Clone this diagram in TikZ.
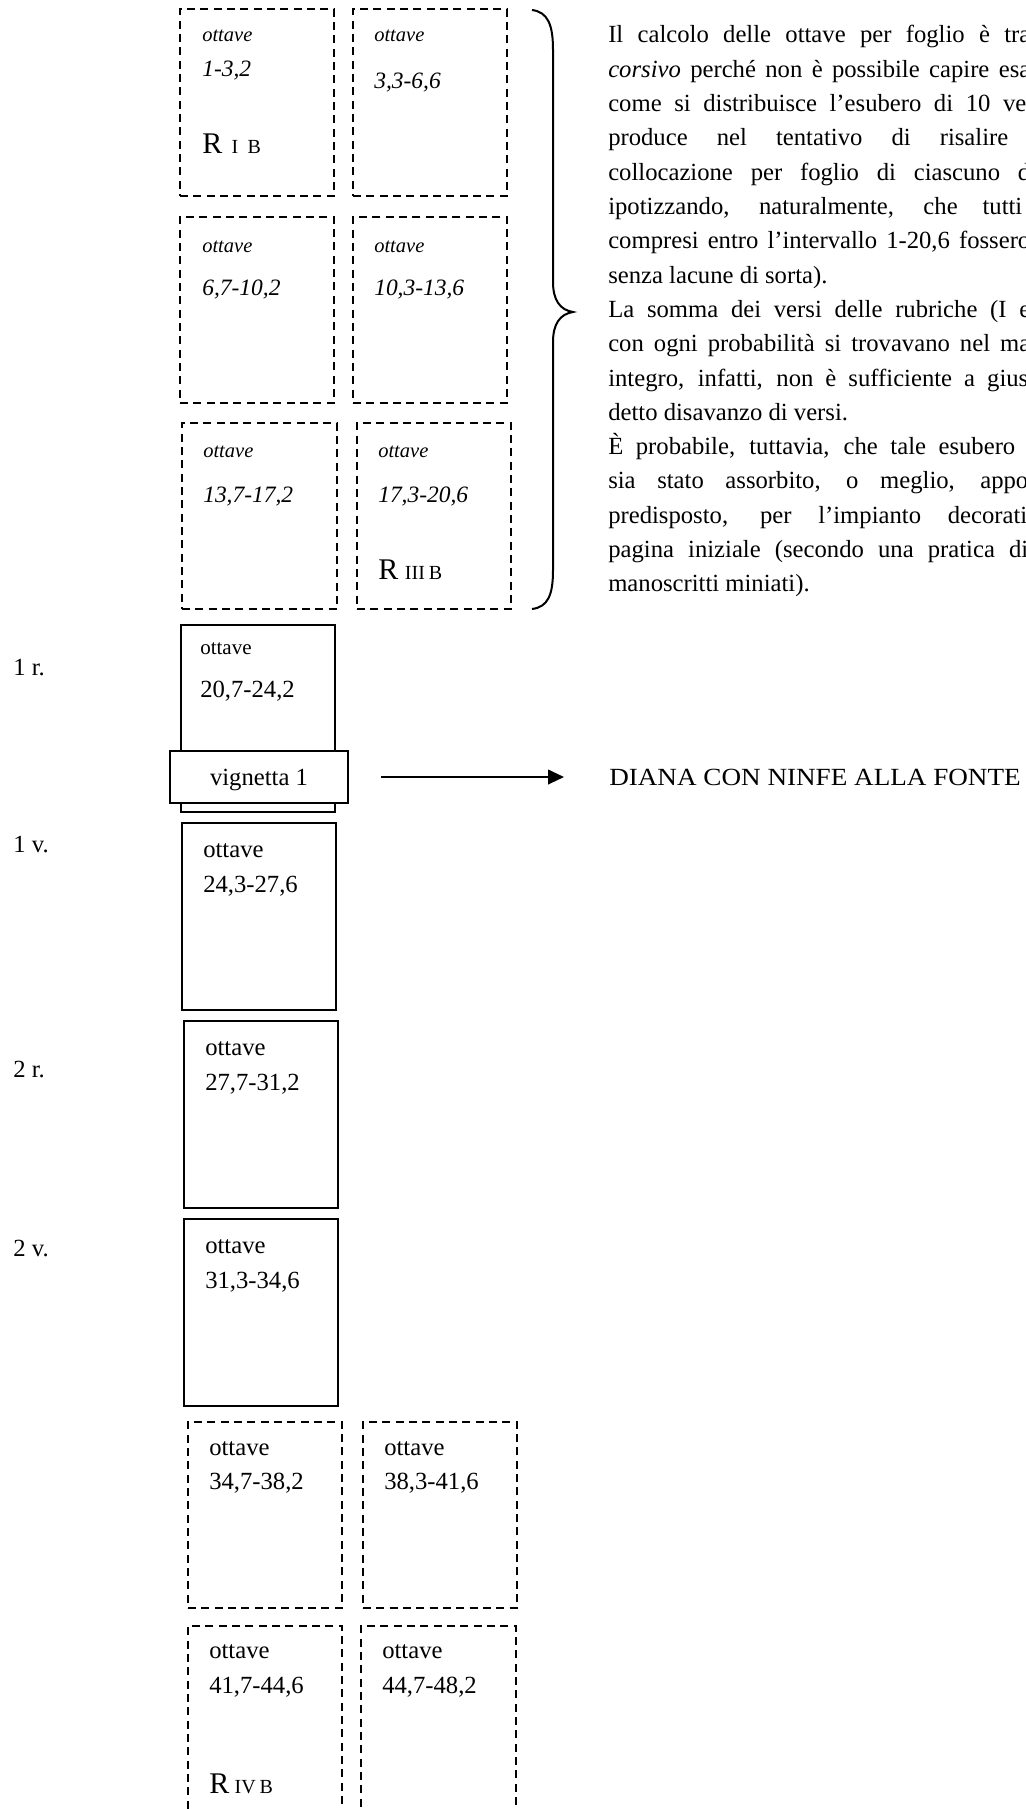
\documentclass[tikz,border=0pt]{standalone}
\usepackage{fontspec}
\setmainfont{Liberation Serif}
\usetikzlibrary{fit,arrows.meta}
\newcommand\setfs[1]{\fontsize{#1}{#1}\selectfont}
\newcommand\pline[4]{\node[txt,font=\setfs{18.5}] (#1) at (608,#2) {\makebox[#3pt][s]{#4}};}
\begin{document}
\begin{tikzpicture}[x=0.75pt,y=-0.75pt,
  dbox/.style={draw, line width=1.6pt, dash pattern=on 6pt off 4pt, inner sep=0pt},
  sbox/.style={draw, line width=1.5pt, inner sep=0pt},
  txt/.style={anchor=base west, inner sep=0pt},
  itsm/.style={txt, font=\setfs{15.4}\itshape},
  itnum/.style={txt, font=\setfs{17.6}\itshape},
  upsm/.style={txt, font=\setfs{18.5}},
  arr/.style={line width=1.5pt, -{Triangle[length=12pt,width=11pt]}}]
\useasboundingbox (0,0) rectangle (1025,1809);
\clip (0,0) rectangle (1025,1809);
% top dashed boxes
\node[dbox, fit={(180,9) (334,196)}] (b1) {};
\node[dbox, fit={(353,9) (507,196)}] (b2) {};
\node[dbox, fit={(180,217) (334,403)}] (b3) {};
\node[dbox, fit={(353,217) (507,403)}] (b4) {};
\node[dbox, fit={(182,423) (337,609)}] (b5) {};
\node[dbox, fit={(357,423) (511,609)}] (b6) {};
\node[itsm] (b1a) at (202,42) {ottave};
\node[itnum] (b1b) at (202,77) {1-3,2};
\node[txt] (b1c) at (202,153) {\setfs{22.5}R\hspace{7pt}\setfs{15}I\hspace{7pt}B};
\node[itsm] (b2a) at (374,42) {ottave};
\node[itnum] (b2b) at (374,89) {3,3-6,6};
\node[itsm] (b3a) at (202,252) {ottave};
\node[itnum] (b3b) at (202,295) {6,7-10,2};
\node[itsm] (b4a) at (374,252) {ottave};
\node[itnum] (b4b) at (374,295) {10,3-13,6};
\node[itsm] (b5a) at (203,457) {ottave};
\node[itnum] (b5b) at (203,502) {13,7-17,2};
\node[itsm] (b6a) at (378,457) {ottave};
\node[itnum] (b6b) at (378,502) {17,3-20,6};
\node[txt] (b6c) at (378,579) {\setfs{22.5}R\hspace{5pt}\setfs{15}III\hspace{3pt}B};
% brace
\draw[line width=1.5pt] (532,10) .. controls (548,12) and (553,25) .. (553,50) -- (553,282)
  .. controls (553,300) and (560,310) .. (573,312)
  .. controls (560,314) and (553,324) .. (553,342) -- (553,570)
  .. controls (553,595) and (548,607) .. (532,609);
% paragraph
\pline{p1}{43}{316.5}{Il calcolo delle ottave per foglio è tra}
\pline{p2}{77.3}{316.5}{\textit{corsivo} perché non è possibile capire esa}
\pline{p3}{111.6}{313.5}{come si distribuisce l’esubero di 10 ve}
\pline{p4}{145.9}{300}{produce nel tentativo di risalire}
\pline{p5}{180.2}{316.5}{collocazione per foglio di ciascuno d}
\pline{p6}{214.5}{310.5}{ipotizzando, naturalmente, che tutti}
\pline{p7}{248.8}{316.5}{compresi entro l’intervallo 1-20,6 fossero}
\node[txt,font=\setfs{18.5}] (p8) at (608,283.1) {senza lacune di sorta).};
\pline{p9}{317.4}{316.5}{La somma dei versi delle rubriche (I e}
\pline{p10}{351.7}{316.5}{con ogni probabilità si trovavano nel ma}
\pline{p11}{386}{315}{integro, infatti, non è sufficiente a gius}
\node[txt,font=\setfs{18.5}] (p12) at (608,420.3) {detto disavanzo di versi.};
\pline{p13}{454.6}{305.25}{È probabile, tuttavia, che tale esubero}
\pline{p14}{488.9}{315}{sia stato assorbito, o meglio, appo}
\pline{p15}{523.2}{314.25}{predisposto, per l’impianto decorati}
\pline{p16}{557.5}{315}{pagina iniziale (secondo una pratica di}
\node[txt,font=\setfs{18.5}] (p17) at (608,591.8) {manoscritti miniati).};
% folio column
\node[sbox, fit={(181,625) (335,812)}] (f1r) {};
\node[txt, font=\setfs{15.75}] (f1ra) at (200,654) {ottave};
\node[upsm] (f1rb) at (200,697) {20,7-24,2};
\node[sbox, fill=white, fit={(170,751) (348,803)}] (vig) {};
\node[txt, anchor=base, font=\setfs{18.5}] (vigt) at (259,785) {vignetta 1};
\node[txt, font=\setfs{18.5}] (diana) at (609,785) {\scalebox{1.1}[1]{DIANA CON NINFE ALLA FONTE}};
\draw[arr] ([xshift=24pt]vig.east) -- ([xshift=-33.75pt,yshift=6pt]diana.base west);
\node[sbox, fit={(182,823) (336,1010)}] (f1v) {};
\node[upsm] (f1va) at (203,857) {ottave};
\node[upsm] (f1vb) at (203,892) {24,3-27,6};
\node[sbox, fit={(184,1021) (338,1208)}] (f2r) {};
\node[upsm] (f2ra) at (205,1055) {ottave};
\node[upsm] (f2rb) at (205,1090) {27,7-31,2};
\node[sbox, fit={(184,1219) (338,1406)}] (f2v) {};
\node[upsm] (f2va) at (205,1253) {ottave};
\node[upsm] (f2vb) at (205,1288) {31,3-34,6};
% folio labels
\node[upsm] (l1r) at (13,675) {1 r.};
\node[upsm] (l1v) at (13,852) {1 v.};
\node[upsm] (l2r) at (13,1077) {2 r.};
\node[upsm] (l2v) at (13,1256) {2 v.};
% bottom dashed boxes
\node[dbox, fit={(188,1422) (342,1608)}] (d1) {};
\node[dbox, fit={(363,1422) (517,1608)}] (d2) {};
\node[dbox, fit={(188,1626) (342,1850)}] (d3) {};
\node[dbox, fit={(361,1626) (516,1850)}] (d4) {};
\node[upsm] (d1a) at (209,1455) {ottave};
\node[upsm] (d1b) at (209,1489) {34,7-38,2};
\node[upsm] (d2a) at (384,1455) {ottave};
\node[upsm] (d2b) at (384,1489) {38,3-41,6};
\node[upsm] (d3a) at (209,1658) {ottave};
\node[upsm] (d3b) at (209,1693) {41,7-44,6};
\node[upsm] (d4a) at (382,1658) {ottave};
\node[upsm] (d4b) at (382,1693) {44,7-48,2};
\node[txt] (d3c) at (209,1793) {\setfs{22.5}R\hspace{4pt}\setfs{15}IV\hspace{3pt}B};
\end{tikzpicture}
\end{document}
